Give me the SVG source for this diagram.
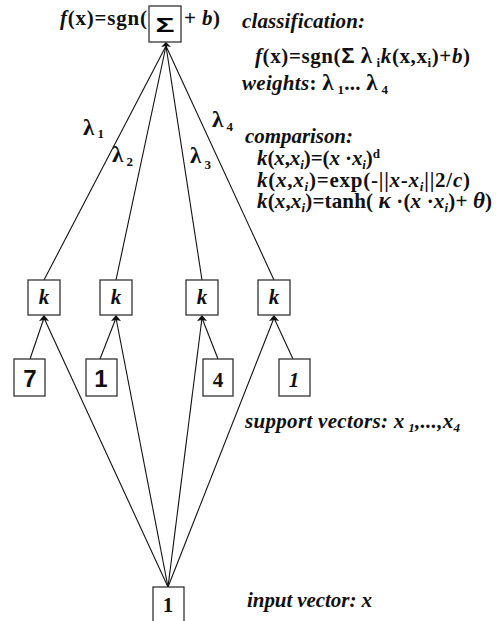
<svg xmlns="http://www.w3.org/2000/svg" width="498" height="621" viewBox="0 0 498 621">
<style>
.t{font-family:"Liberation Serif","Times New Roman",serif;font-weight:bold;font-size:21px;fill:#111}
.i{font-style:italic}
.s{font-size:13px}
.g{font-size:23px}
.box{fill:#fff;stroke:#333;stroke-width:1.3}
.ln{stroke:#111;stroke-width:1.1;fill:none}
.ah{fill:#111}
.sans{font-family:"Liberation Sans",Arial,sans-serif;font-weight:bold}
</style>
<g id="connectors">
<line class="ln" x1="166" y1="46" x2="44" y2="280"/>
<line class="ln" x1="166" y1="46" x2="116" y2="280"/>
<line class="ln" x1="166" y1="46" x2="202" y2="280"/>
<line class="ln" x1="166" y1="46" x2="274" y2="280"/>
<line class="ln" x1="44" y1="318" x2="30" y2="359"/>
<line class="ln" x1="116" y1="318" x2="100" y2="359"/>
<line class="ln" x1="202" y1="318" x2="218" y2="359"/>
<line class="ln" x1="274" y1="318" x2="293" y2="359"/>
<line class="ln" x1="44" y1="318" x2="168" y2="587"/>
<line class="ln" x1="116" y1="318" x2="168" y2="587"/>
<line class="ln" x1="202" y1="318" x2="168" y2="587"/>
<line class="ln" x1="274" y1="318" x2="168" y2="587"/>
<path class="ah" d="M166,42 L171,47 L166,46 L161,47 Z"/>
<path class="ah" d="M44,315 L49,321 L44,320 L39,321 Z"/>
<path class="ah" d="M116,315 L121,321 L116,320 L111,321 Z"/>
<path class="ah" d="M202,315 L207,321 L202,320 L197,321 Z"/>
<path class="ah" d="M274,315 L279,321 L274,320 L269,321 Z"/>
<text class="t g" x="83" y="135">λ<tspan class="s" dy="3"> 1</tspan></text>
<text class="t g" x="112" y="162">λ<tspan class="s" dy="4"> 2</tspan></text>
<text class="t g" x="190" y="163">λ<tspan class="s" dy="6"> 3</tspan></text>
<text class="t g" x="212" y="127">λ<tspan class="s" dy="4"> 4</tspan></text>
</g>
<g id="sum">
<rect class="box" x="149" y="6" width="32" height="36"/>
<text class="sans" x="165" y="32" font-size="20" text-anchor="middle" textLength="19" lengthAdjust="spacingAndGlyphs">Σ</text>
<text class="t" x="60" y="25" textLength="87"><tspan class="i">f</tspan>(x)=sgn(</text>
<text class="t" x="184" y="25" textLength="36">+ <tspan class="i">b</tspan>)</text>
</g>
<g id="k1"><rect class="box" x="28" y="280" width="32" height="35"/><text class="t i" x="44" y="304" text-anchor="middle">k</text></g>
<g id="k2"><rect class="box" x="100" y="280" width="32" height="35"/><text class="t i" x="116" y="304" text-anchor="middle">k</text></g>
<g id="k3"><rect class="box" x="186" y="280" width="32" height="35"/><text class="t i" x="202" y="304" text-anchor="middle">k</text></g>
<g id="k4"><rect class="box" x="258" y="280" width="32" height="35"/><text class="t i" x="274" y="304" text-anchor="middle">k</text></g>
<g id="sv1"><rect class="box" x="14" y="359" width="31" height="37"/><text class="sans" x="30" y="387" font-size="24" text-anchor="middle" fill="#111">7</text></g>
<g id="sv2"><rect class="box" x="86" y="359" width="31" height="37"/><text class="sans" x="101" y="387" font-size="24" text-anchor="middle" fill="#111">1</text></g>
<g id="sv3"><rect class="box" x="203" y="359" width="30" height="37"/><text class="t" x="218" y="387" font-size="23" text-anchor="middle">4</text></g>
<g id="sv4"><rect class="box" x="279" y="359" width="31" height="37"/><text class="t i" x="294" y="387" font-size="23" font-weight="normal" text-anchor="middle">1</text></g>
<g id="input"><rect class="box" x="153" y="587" width="31" height="50"/><text class="t" x="168" y="612" font-size="21" text-anchor="middle">1</text></g>
<g id="labels">
<text class="t i" x="242" y="28" textLength="123">classification:</text>
<text class="t" x="255" y="63" textLength="215"><tspan class="i">f</tspan>(x)=sgn(<tspan class="sans" font-size="22">Σ</tspan> <tspan class="g">λ</tspan><tspan class="s" dy="4"> i</tspan><tspan class="i" dy="-4">k</tspan>(x,x<tspan class="s" dy="4">i</tspan><tspan dy="-4">)+</tspan><tspan class="i">b</tspan>)</text>
<text class="t" x="242" y="90" textLength="146"><tspan class="i">weights</tspan>: <tspan class="g">λ</tspan><tspan class="s" dy="4"> 1</tspan><tspan dy="-4">... </tspan><tspan class="g">λ</tspan><tspan class="s" dy="4"> 4</tspan></text>
<text class="t i" x="245" y="143" textLength="108">comparison:</text>
<text class="t" x="257" y="165" textLength="123"><tspan class="i">k</tspan>(<tspan class="i">x</tspan>,<tspan class="i">x</tspan><tspan class="s i" dy="4">i</tspan><tspan dy="-4">)=(</tspan><tspan class="i">x </tspan>·<tspan class="i">x</tspan><tspan class="s i" dy="4">i</tspan><tspan dy="-4">)</tspan><tspan class="s" dy="-7">d</tspan></text>
<text class="t" x="257" y="187" textLength="213"><tspan class="i">k</tspan>(<tspan class="i">x</tspan>,<tspan class="i">x</tspan><tspan class="s i" dy="4">i</tspan><tspan dy="-4">)=exp(-||</tspan><tspan class="i">x</tspan>-<tspan class="i">x</tspan><tspan class="s i" dy="4">i</tspan><tspan dy="-4">||2/</tspan><tspan class="i">c</tspan>)</text>
<text class="t" x="257" y="208" textLength="235"><tspan class="i">k</tspan>(<tspan class="i">x</tspan>,<tspan class="i">x</tspan><tspan class="s i" dy="4">i</tspan><tspan dy="-4">)=tanh( </tspan><tspan class="i g">κ</tspan> ·(<tspan class="i">x </tspan>·<tspan class="i">x</tspan><tspan class="s i" dy="4">i</tspan><tspan dy="-4">)+ </tspan><tspan class="i g">θ</tspan>)</text>
<text class="t i" x="245" y="428" textLength="215">support vectors: x<tspan class="s" dy="4"> 1</tspan><tspan dy="-4">,...,x</tspan><tspan class="s" dy="4">4</tspan></text>
<text class="t i" x="247" y="607" textLength="125">input vector: x</text>
</g>
</svg>
